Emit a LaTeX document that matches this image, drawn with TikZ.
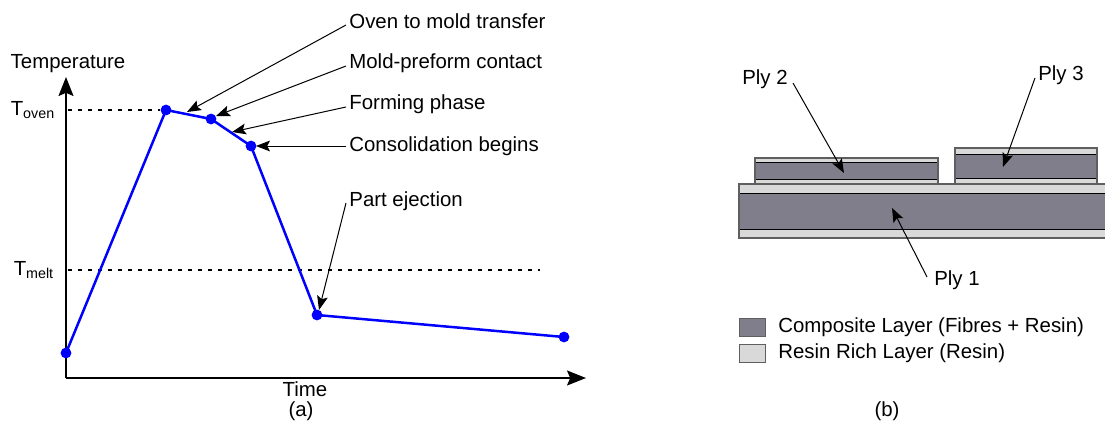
\documentclass[tikz,border=0pt]{standalone}
\usepackage{fontspec}
\setmainfont{Liberation Sans}
\usetikzlibrary{arrows.meta}
\definecolor{comp}{RGB}{127,126,138}
\definecolor{resin}{RGB}{217,217,217}
\definecolor{edgegray}{RGB}{95,95,95}
\begin{document}
\begin{tikzpicture}[x=0.5pt,y=-0.5pt,
  font=\fontsize{10.2}{12}\selectfont,
  lbl/.style={inner sep=1pt},
  curve/.style={blue, line width=1.25pt, line join=round},
  dot/.style={circle, fill=blue, inner sep=0pt, minimum size=5.4pt},
  leader/.style={line width=0.5pt, -{Stealth[length=7pt,width=5.4pt,inset=1.4pt]}},
  axisline/.style={line width=0.7pt, -{Stealth[length=9.5pt,width=7.5pt,inset=1.6pt]}},
  guide/.style={line width=0.6pt, dash pattern=on 2pt off 3pt},
  layerline/.style={line width=0.5pt, black},
  plyedge/.style={line width=0.6pt, edgegray},
  legbox/.style={draw=edgegray, line width=0.6pt, minimum width=13pt, minimum height=9pt, inner sep=0pt}]
\useasboundingbox (0,0) rectangle (1105,430);

% ---------------- (a) temperature profile ----------------
\coordinate (O) at (66,378);
\coordinate (ytop) at (66,77);
\coordinate (xend) at (586,378);
\draw[axisline] (O) -- (ytop);
\draw[axisline] (O) -- (xend);

\node[lbl] (templbl) at (68,64) {Temperature};
\node[lbl] (timelbl) at (305,389) {Time};
\node[lbl] (alab) at (301,411) {(a)};
\node[lbl] (toven) at (33,110) {T\textsubscript{oven}};
\node[lbl] (tmelt) at (34,270) {T\textsubscript{melt}};

\node[dot] (p0) at (66,353) {};
\node[dot] (p1) at (166,110) {};
\node[dot] (p2) at (211,119) {};
\node[dot] (p3) at (251,146) {};
\node[dot] (p4) at (317,315) {};
\node[dot] (p5) at (564,337) {};

\coordinate (ovenaxis) at (68,110);
\coordinate (meltaxis) at (68,270);
\coordinate (meltend) at (540,270);
\draw[guide] (ovenaxis) -- (p1.west);
\draw[guide] (meltaxis) -- (meltend);

\draw[curve] (p0.center) -- (p1.center) -- (p2.center) -- (p3.center) -- (p4.center) -- (p5.center);

\node[lbl, anchor=west] (l1) at (347,21) {Oven to mold transfer};
\node[lbl, anchor=west] (l2) at (347,63) {Mold-preform contact};
\node[lbl, anchor=west] (l3) at (347,104) {Forming phase};
\node[lbl, anchor=west] (l4) at (347,146) {Consolidation begins};
\node[lbl, anchor=west] (l5) at (347,201) {Part ejection};

\coordinate (t1) at (187,112);
\coordinate (t2) at (216,116);
\coordinate (t3) at (232,132);
\coordinate (t4) at (256,146);
\coordinate (t5) at (319,310);
\draw[leader] (l1.west) ++(-1,4) -- (t1);
\draw[leader] (l2.west) ++(-1,3) -- (t2);
\draw[leader] (l3.west) ++(-1,3) -- (t3);
\draw[leader] (l4.west) ++(-1,0) -- (t4);
\draw[leader] (l5.west) ++(-1,2) -- (t5);

% ---------------- (b) ply stack ----------------
% Ply 1
\fill[resin] (739,184) rectangle (1105,238);
\fill[comp] (739,193) rectangle (1105,229);
\draw[layerline] (739,193) -- (1105,193);
\draw[layerline] (739,229) -- (1105,229);
\draw[plyedge] (1105,184) -- (739,184) -- (739,238) -- (1105,238);
% Ply 2
\fill[resin] (755,158) rectangle (938,184);
\fill[comp] (755,162) rectangle (938,179);
\draw[layerline] (755,162) -- (938,162);
\draw[layerline] (755,179) -- (938,179);
\draw[plyedge] (755,158) rectangle (938,184);
% Ply 3
\fill[resin] (955,148) rectangle (1097,184);
\fill[comp] (955,154) rectangle (1097,178);
\draw[layerline] (955,154) -- (1097,154);
\draw[layerline] (955,178) -- (1097,178);
\draw[plyedge] (955,148) rectangle (1097,184);

\node[lbl] (ply2) at (765,79) {Ply 2};
\node[lbl] (ply3) at (1061,75) {Ply 3};
\node[lbl] (ply1) at (957,280) {Ply 1};
\coordinate (s2) at (793,83);
\coordinate (e2) at (844,173);
\coordinate (s3) at (1035,78);
\coordinate (e3) at (1003,167);
\coordinate (s1) at (927,277);
\coordinate (e1) at (892,208);
\draw[leader] (s2) -- (e2);
\draw[leader] (s3) -- (e3);
\draw[leader] (s1) -- (e1);

% legend
\node[legbox, fill=comp, anchor=north west] (kcomp) at (739,318) {};
\node[legbox, fill=resin, anchor=north west] (kresin) at (739,344) {};
\node[lbl, anchor=west] (kcomptxt) at (776,327) {Composite Layer (Fibres + Resin)};
\node[lbl, anchor=west] (kresintxt) at (776,353) {Resin Rich Layer (Resin)};
\node[lbl] (blab) at (887,411) {(b)};
\end{tikzpicture}
\end{document}
